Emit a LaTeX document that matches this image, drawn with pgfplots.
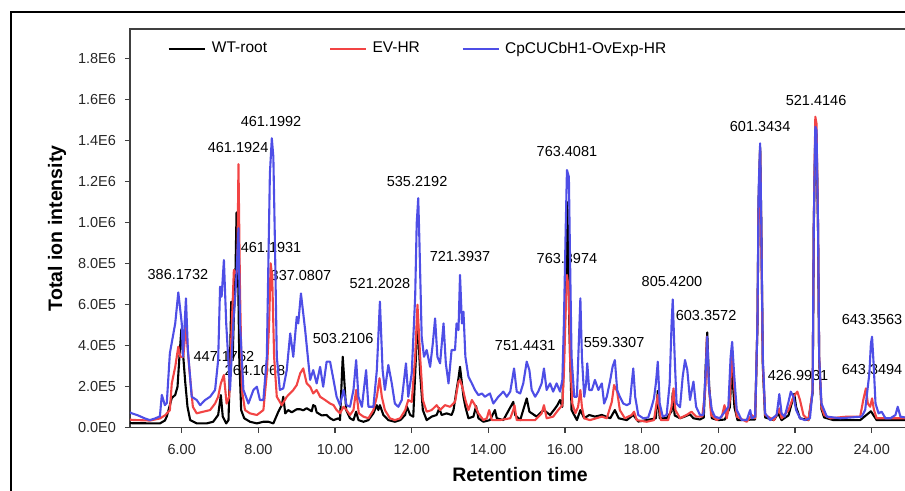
\documentclass[border=0pt]{standalone}
\usepackage{fontspec}
\setmainfont{Liberation Sans}
\usepackage{pgfplots}
\pgfplotsset{compat=1.18}
\definecolor{evred}{RGB}{242,68,68}
\definecolor{oxblue}{RGB}{78,78,230}
\newcommand{\lbl}[3]{\node[font=\fontsize{7.25}{8}\selectfont, inner sep=0pt] at (axis cs:#1,#2) {#3};}

\begin{document}
\begin{tikzpicture}
% outer frame (cut off at right and bottom)
\draw[line width=1pt] (5.5pt,-300pt) -- (5.5pt,-6pt) -- (470pt,-6pt);
\begin{axis}[
  at={(65pt,-213.85pt)}, anchor=south west,
  scale only axis, width=390pt, height=199.35pt,
  xmin=4.65, xmax=25, ymin=0, ymax=19.45,
  axis line style={black!75, line width=0.7pt},
  tick style={black!75, line width=0.7pt},
  tick align=outside, major tick length=2.5pt, tick pos=left,
  ticklabel style={font=\fontsize{7.25}{8}\selectfont, text=black!85},
  xticklabel style={yshift=-2.2pt},
  yticklabel style={xshift=-1pt},
  xtick={6,8,...,24},
  xticklabels={6.00,8.00,10.00,12.00,14.00,16.00,18.00,20.00,22.00,24.00},
  ytick={0,2,...,18},
  yticklabels={0.0E0,2.0E5,4.0E5,6.0E5,8.0E5,1.0E6,1.2E6,1.4E6,1.6E6,1.8E6},
  xlabel={Retention time},
  ylabel={Total ion intensity},
  xlabel style={at={(axis description cs:0.5,-0.1186)}, anchor=center, font=\bfseries\fontsize{9.75}{11}\selectfont},
  ylabel style={at={(axis description cs:-0.0936,0.5)}, anchor=center, font=\bfseries\fontsize{9.75}{11}\selectfont},
  legend style={at={(axis description cs:0.0474,0.95)}, anchor=west, draw=none, fill=none,
    legend columns=3, font=\fontsize{7.75}{9}\selectfont, column sep=0pt, inner sep=0pt,
    nodes={inner sep=0pt}},
  legend image code/.code={\draw[#1, line width=1.3pt] (0pt,0pt) -- (18pt,0pt);},
  every axis plot/.append style={line width=1.05pt, line join=round},
]
% peak labels
\lbl{5.90}{7.49}{386.1732}
\lbl{8.33}{14.96}{461.1992}
\lbl{7.47}{13.69}{461.1924}
\lbl{8.33}{8.81}{461.1931}
\lbl{9.11}{7.40}{337.0807}
\lbl{7.10}{3.45}{447.1762}
\lbl{7.91}{2.77}{264.1068}
\lbl{10.21}{4.33}{503.2106}
\lbl{11.17}{7.01}{521.2028}
\lbl{12.14}{12.03}{535.2192}
\lbl{13.26}{8.33}{721.3937}
\lbl{14.96}{3.99}{751.4431}
\lbl{16.05}{13.45}{763.4081}
\lbl{16.05}{8.23}{763.3974}
\lbl{17.28}{4.18}{559.3307}
\lbl{18.79}{7.11}{805.4200}
\lbl{19.68}{5.45}{603.3572}
\lbl{21.09}{14.67}{601.3434}
\lbl{22.55}{15.94}{521.4146}
\lbl{22.08}{2.57}{426.9931}
\lbl{24.01}{5.30}{643.3563}
\lbl{24.01}{2.86}{643.3494}

% WT-root (values in units of 1E5)
\addplot[black] table {
4.65 0.22
5.43 0.21
5.56 0.35
5.61 0.55
5.69 1.10
5.74 1.45
5.83 1.60
5.89 2.00
5.94 3.46
5.99 4.81
6.04 3.46
6.09 2.25
6.15 1.02
6.22 0.37
6.39 0.21
6.65 0.21
6.82 0.29
6.95 0.62
7.02 1.59
7.07 0.54
7.16 0.21
7.22 0.37
7.26 3.30
7.29 6.15
7.33 3.46
7.36 5.50
7.40 7.40
7.43 10.50
7.47 7.60
7.50 3.46
7.55 0.86
7.63 0.46
7.78 0.29
7.96 0.21
8.13 0.29
8.26 0.29
8.39 0.21
8.52 0.78
8.61 1.10
8.65 1.51
8.70 0.70
8.78 0.86
8.87 0.75
9.00 0.90
9.09 0.90
9.17 0.85
9.26 0.95
9.39 0.80
9.43 1.10
9.48 1.05
9.52 0.75
9.65 0.60
9.78 0.62
9.87 0.46
9.96 0.37
10.09 0.46
10.13 0.37
10.17 2.16
10.20 3.46
10.24 2.33
10.29 0.86
10.39 0.46
10.48 0.37
10.55 0.78
10.61 0.37
10.74 0.29
10.87 0.37
11.00 0.70
11.09 1.10
11.13 0.86
11.17 1.10
11.26 0.62
11.39 0.37
11.56 0.29
11.70 0.37
11.83 0.62
11.87 1.05
11.96 0.62
12.04 0.54
12.11 3.46
12.15 5.50
12.22 2.65
12.29 0.86
12.39 0.37
12.52 0.54
12.65 0.62
12.72 0.95
12.78 0.62
12.91 0.70
13.04 0.62
13.09 0.86
13.17 1.84
13.22 2.41
13.26 2.97
13.31 2.16
13.35 1.51
13.40 1.02
13.48 0.46
13.61 0.54
13.68 1.05
13.74 0.46
13.87 0.29
14.04 0.37
14.17 0.86
14.22 0.46
14.39 0.37
14.65 1.26
14.70 0.62
14.83 0.37
15.00 1.43
15.07 0.78
15.26 0.54
15.39 0.78
15.45 0.86
15.61 0.62
15.74 0.94
15.80 1.10
15.87 1.35
15.93 1.02
16.01 6.00
16.06 11.00
16.11 5.09
16.17 0.86
16.31 0.37
16.40 0.86
16.50 0.46
16.63 0.62
16.78 0.54
16.96 0.62
17.18 0.46
17.30 0.86
17.40 0.46
17.61 0.37
17.78 0.62
17.91 0.30
18.13 0.37
18.37 0.46
18.42 1.80
18.47 0.46
18.65 0.46
18.78 0.80
18.81 1.70
18.86 0.60
19.00 0.46
19.13 0.55
19.26 0.65
19.35 0.46
19.52 0.40
19.62 0.50
19.67 3.00
19.71 4.65
19.76 2.00
19.83 0.46
20.00 0.37
20.17 0.40
20.30 1.00
20.35 3.00
20.42 1.00
20.50 0.37
20.96 0.40
21.02 5.00
21.05 11.00
21.09 13.70
21.12 10.00
21.16 3.00
21.22 0.50
21.45 0.37
21.56 0.70
21.65 0.37
21.83 0.60
21.93 1.30
21.98 1.65
22.03 1.00
22.13 0.46
22.35 0.37
22.46 1.70
22.49 9.80
22.53 14.50
22.56 14.30
22.60 9.80
22.63 3.30
22.69 0.90
22.76 0.50
23.00 0.37
23.70 0.37
23.85 0.60
23.98 0.80
24.05 0.60
24.13 0.37
25.00 0.37
};
\addlegendentry{\hspace{3pt}\makebox[58.5pt][l]{WT-root}}

% EV-HR
\addplot[evred] table {
4.65 0.40
4.70 0.38
5.17 0.35
5.43 0.45
5.56 0.60
5.69 0.85
5.74 2.16
5.83 2.97
5.91 3.95
5.96 3.46
6.04 3.46
6.11 4.90
6.20 2.81
6.29 1.02
6.39 0.70
6.56 0.78
6.74 0.86
6.87 1.18
6.95 1.51
7.02 2.16
7.10 2.57
7.17 1.18
7.24 1.51
7.30 4.76
7.36 7.69
7.42 7.53
7.45 7.69
7.48 12.86
7.52 6.72
7.57 1.84
7.65 0.86
7.78 0.70
7.96 0.62
8.13 0.86
8.22 2.65
8.28 5.09
8.32 8.02
8.36 7.37
8.41 3.46
8.48 1.51
8.61 1.10
8.74 1.51
8.91 1.84
9.00 2.08
9.09 2.65
9.17 2.89
9.26 2.16
9.35 2.00
9.43 1.67
9.52 1.84
9.61 1.51
9.74 1.35
9.87 1.18
9.96 1.10
10.04 0.86
10.13 0.70
10.22 1.02
10.30 0.86
10.39 0.62
10.48 0.86
10.55 1.84
10.62 0.70
10.74 0.54
10.87 0.46
11.00 0.86
11.09 1.51
11.16 2.41
11.22 1.51
11.30 0.86
11.43 0.46
11.56 0.37
11.70 0.46
11.83 0.86
11.91 1.35
12.00 1.26
12.09 3.46
12.15 6.00
12.22 3.46
12.29 1.35
12.39 0.78
12.52 0.86
12.65 1.10
12.74 0.86
12.87 1.10
13.00 1.02
13.13 1.26
13.22 2.25
13.26 2.33
13.33 1.92
13.40 1.35
13.48 0.86
13.57 1.35
13.65 1.10
13.74 0.70
13.87 0.37
13.96 0.46
14.02 0.86
14.09 0.37
14.30 0.37
14.57 0.46
14.65 0.86
14.68 1.10
14.74 0.37
14.91 0.37
15.22 0.37
15.39 0.70
15.45 1.10
15.52 0.46
15.69 0.54
15.82 0.86
15.93 1.10
15.97 2.65
16.02 5.90
16.05 7.45
16.10 6.72
16.13 3.46
16.19 1.18
16.27 0.70
16.34 1.02
16.40 1.84
16.44 1.02
16.50 0.46
16.65 0.37
16.96 0.54
17.09 0.46
17.22 1.26
17.28 2.08
17.36 1.76
17.43 0.86
17.56 0.46
17.74 0.62
17.80 0.78
17.87 0.37
18.13 0.29
18.32 0.37
18.42 1.60
18.50 0.37
18.69 0.37
18.78 1.02
18.83 1.92
18.88 0.86
19.00 0.46
19.17 0.62
19.30 0.78
19.42 0.54
19.58 0.54
19.66 1.84
19.70 4.44
19.75 2.16
19.81 0.62
19.96 0.37
20.09 0.54
20.16 1.10
20.22 0.46
20.30 1.35
20.35 3.80
20.42 1.84
20.48 0.54
20.74 0.29
20.87 0.62
20.96 0.46
21.02 5.09
21.05 10.78
21.09 13.60
21.12 9.30
21.16 3.14
21.22 0.62
21.45 0.37
21.56 0.78
21.59 0.94
21.65 0.46
21.83 0.86
21.96 1.51
22.06 1.76
22.13 1.35
22.22 0.62
22.35 0.37
22.46 1.84
22.49 9.97
22.53 15.17
22.56 14.84
22.60 9.97
22.63 3.46
22.69 1.02
22.76 0.62
22.92 0.46
23.35 0.54
23.70 0.54
23.78 1.35
23.85 1.92
23.90 1.18
23.96 1.02
24.01 1.43
24.06 0.86
24.13 0.46
25.00 0.46
};
\addlegendentry{\hspace{2.5pt}\makebox[44.5pt][l]{EV-HR}}

% CpCUCbH1-OvExp-HR
\addplot[oxblue] table {
4.65 0.75
4.70 0.70
4.86 0.60
5.04 0.45
5.17 0.37
5.30 0.45
5.43 0.55
5.48 1.60
5.56 1.10
5.61 1.20
5.69 3.63
5.83 5.09
5.91 6.60
6.00 5.09
6.03 3.46
6.11 6.31
6.16 3.79
6.26 1.51
6.39 1.35
6.48 1.10
6.61 1.35
6.74 1.51
6.87 1.84
6.95 3.30
7.00 6.88
7.04 6.39
7.10 8.18
7.16 5.09
7.26 1.84
7.35 5.25
7.39 6.23
7.43 7.53
7.48 9.73
7.52 5.09
7.61 1.84
7.74 1.18
7.87 1.84
7.96 2.00
8.04 1.35
8.13 1.35
8.22 3.46
8.26 8.02
8.30 12.41
8.35 14.12
8.39 13.22
8.43 9.16
8.48 3.46
8.56 1.84
8.65 1.92
8.74 2.81
8.83 4.60
8.91 3.46
9.00 5.41
9.04 5.09
9.11 6.55
9.22 4.76
9.35 2.33
9.43 2.81
9.52 2.16
9.61 2.97
9.69 2.00
9.78 3.22
9.87 3.22
9.96 2.33
10.04 1.51
10.13 1.10
10.22 1.84
10.30 1.10
10.39 1.02
10.48 1.84
10.55 3.30
10.61 1.51
10.70 1.02
10.81 2.81
10.87 1.02
11.00 1.02
11.09 2.81
11.17 6.15
11.24 2.81
11.30 1.84
11.39 3.06
11.48 2.16
11.56 1.18
11.65 1.02
11.74 1.35
11.85 3.14
11.91 1.51
12.00 2.65
12.09 6.39
12.13 9.97
12.17 11.20
12.20 9.16
12.26 4.44
12.32 3.46
12.39 3.79
12.48 2.97
12.55 4.11
12.61 5.33
12.67 3.46
12.74 3.14
12.83 5.09
12.89 3.14
12.96 2.16
13.04 3.79
13.13 3.79
13.17 5.09
13.22 4.76
13.26 7.45
13.31 5.09
13.35 5.66
13.40 3.46
13.48 2.49
13.57 2.16
13.65 1.84
13.74 1.59
13.83 1.67
13.91 1.51
14.04 1.67
14.13 1.18
14.26 1.51
14.39 1.76
14.48 1.51
14.57 1.76
14.67 2.89
14.74 1.76
14.83 1.67
14.91 2.16
15.00 3.22
15.07 2.81
15.13 1.84
15.22 1.51
15.30 1.76
15.39 2.16
15.45 2.89
15.52 1.84
15.61 2.16
15.69 1.76
15.78 2.16
15.87 1.76
15.93 2.33
15.97 5.09
16.02 9.97
16.05 12.57
16.10 12.24
16.13 8.34
16.17 3.46
16.24 1.51
16.31 1.51
16.36 4.20
16.40 6.31
16.44 3.46
16.50 1.51
16.55 2.16
16.58 3.14
16.63 1.84
16.70 1.84
16.78 2.33
16.87 1.84
16.96 2.16
17.02 1.18
17.09 1.51
17.18 2.33
17.24 2.97
17.30 3.30
17.36 1.84
17.43 1.51
17.52 1.18
17.61 1.10
17.69 1.18
17.74 2.16
17.78 2.89
17.83 1.51
17.91 0.62
18.04 0.46
18.17 0.50
18.26 1.02
18.32 1.43
18.37 2.16
18.42 3.22
18.47 1.18
18.55 0.54
18.65 0.62
18.73 2.16
18.78 5.09
18.81 6.26
18.86 3.46
18.91 1.18
19.00 1.00
19.07 2.49
19.13 3.30
19.19 2.81
19.26 1.35
19.35 2.25
19.42 1.02
19.52 0.62
19.61 0.62
19.68 3.15
19.71 4.44
19.76 1.84
19.83 0.86
19.91 0.54
20.04 0.46
20.17 0.78
20.26 1.02
20.32 3.46
20.36 4.19
20.41 2.65
20.48 0.86
20.61 0.37
20.74 0.37
20.83 0.86
20.87 0.46
20.96 0.54
21.02 5.09
21.05 11.60
21.09 13.87
21.12 9.97
21.16 3.46
21.22 0.70
21.35 0.37
21.52 0.62
21.56 1.18
21.59 1.64
21.65 0.70
21.73 0.54
21.83 1.26
21.89 1.76
21.96 1.51
22.03 0.86
22.13 0.46
22.26 0.37
22.39 0.46
22.46 1.84
22.49 9.97
22.53 14.68
22.56 14.52
22.60 9.97
22.63 3.46
22.69 1.18
22.76 0.86
22.83 0.54
23.18 0.46
23.74 0.54
23.83 0.86
23.89 1.84
23.94 2.65
23.98 4.11
24.01 4.44
24.05 3.14
24.10 1.18
24.18 0.70
24.26 0.78
24.36 0.46
24.49 0.46
24.62 0.62
24.68 1.02
24.75 0.54
25.00 0.46
};
\addlegendentry{\hspace{2.5pt}CpCUCbH1-OvExp-HR}
\end{axis}
\pgfresetboundingbox
\useasboundingbox (0pt,0pt) rectangle (452.5pt,-245.5pt);
\end{tikzpicture}
\end{document}
